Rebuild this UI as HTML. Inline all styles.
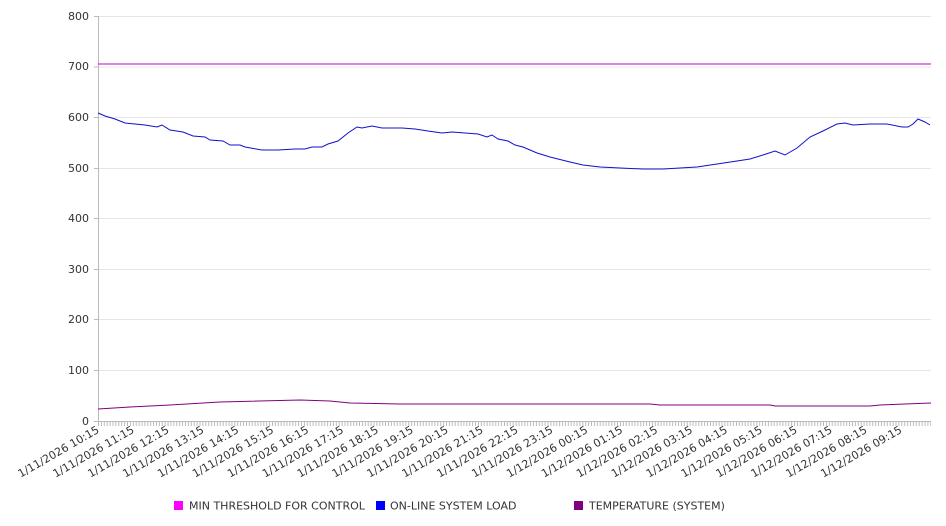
<!DOCTYPE html>
<html><head><meta charset="utf-8"><style>
html,body{margin:0;padding:0;background:#fff;}
svg{display:block;font-family:"DejaVu Sans","Liberation Sans",sans-serif;}
</style></head><body>
<svg width="946" height="526" viewBox="0 0 946 526" xmlns="http://www.w3.org/2000/svg">
<g stroke="#e6e6e6" stroke-width="1">
<line x1="98" y1="16.5" x2="931" y2="16.5"/>
<line x1="98" y1="67" x2="931" y2="67"/>
<line x1="98" y1="117.5" x2="931" y2="117.5"/>
<line x1="98" y1="168.5" x2="931" y2="168.5"/>
<line x1="98" y1="218.5" x2="931" y2="218.5"/>
<line x1="98" y1="269.5" x2="931" y2="269.5"/>
<line x1="98" y1="319.5" x2="931" y2="319.5"/>
<line x1="98" y1="370.5" x2="931" y2="370.5"/>
</g>
<g stroke="#bbb" stroke-width="1">
<line x1="98.5" y1="16" x2="98.5" y2="421"/>
<line x1="98" y1="421.5" x2="931" y2="421.5"/>
<line x1="94" y1="16.5" x2="98" y2="16.5"/><line x1="94" y1="67" x2="98" y2="67"/><line x1="94" y1="117.5" x2="98" y2="117.5"/><line x1="94" y1="168.5" x2="98" y2="168.5"/><line x1="94" y1="218.5" x2="98" y2="218.5"/><line x1="94" y1="269.5" x2="98" y2="269.5"/><line x1="94" y1="319.5" x2="98" y2="319.5"/><line x1="94" y1="370.5" x2="98" y2="370.5"/><line x1="94" y1="421.5" x2="98" y2="421.5"/>
</g>
<line x1="98" y1="424" x2="931" y2="424" stroke="#bbb" stroke-width="4" stroke-dasharray="1 1.9"/>
<g font-size="11" fill="#333" text-anchor="end">
<text x="89" y="20">800</text><text x="89" y="70">700</text><text x="89" y="121">600</text><text x="89" y="172">500</text><text x="89" y="222">400</text><text x="89" y="273">300</text><text x="89" y="323">200</text><text x="89" y="374">100</text><text x="89" y="425">0</text>
</g>
<line x1="98" y1="64" x2="931" y2="64" stroke="#c000c0" stroke-width="1"/>
<polyline fill="none" stroke="#1010cc" stroke-width="1" points="98,113 105,116 115,119 125,123 135,124 145,125 157,127 162,125 170,130 183,132 193,136 205,137 210,140 223,141 230,145 240,145 245,147 262,150 278,150 295,149 305,149 312,147 322,147 328,144 338,141 348,133 357,127 362,128 372,126 382,128 402,128 415,129 428,131 442,133 452,132 465,133 478,134 487,137 492,135 498,139 508,141 515,145 523,147 537,153 550,157 570,162 583,165 600,167 620,168 643,169 663,169 680,168 697,167 717,164 737,161 750,159 763,155 775,151 785,155 797,148 810,137 823,131 837,124 845,123 853,125 870,124 887,124 902,127 908,127 913,124 918,119 925,122 930,125"/>
<polyline fill="none" stroke="#800080" stroke-width="1" points="98,409 130,407 170,405 220,402 300,400 330,401 350,403 400,404 650,404 660,405 770,405 775,406 870,406 880,405 905,404 931,403"/>
<g font-size="11" fill="#333" text-anchor="end">
<text transform="translate(100,432) rotate(-30)">1/11/2026 10:15</text>
<text transform="translate(134.9,432) rotate(-30)">1/11/2026 11:15</text>
<text transform="translate(169.8,432) rotate(-30)">1/11/2026 12:15</text>
<text transform="translate(204.7,432) rotate(-30)">1/11/2026 13:15</text>
<text transform="translate(239.6,432) rotate(-30)">1/11/2026 14:15</text>
<text transform="translate(274.5,432) rotate(-30)">1/11/2026 15:15</text>
<text transform="translate(309.4,432) rotate(-30)">1/11/2026 16:15</text>
<text transform="translate(344.3,432) rotate(-30)">1/11/2026 17:15</text>
<text transform="translate(379.2,432) rotate(-30)">1/11/2026 18:15</text>
<text transform="translate(414.1,432) rotate(-30)">1/11/2026 19:15</text>
<text transform="translate(449,432) rotate(-30)">1/11/2026 20:15</text>
<text transform="translate(483.9,432) rotate(-30)">1/11/2026 21:15</text>
<text transform="translate(518.8,432) rotate(-30)">1/11/2026 22:15</text>
<text transform="translate(553.7,432) rotate(-30)">1/11/2026 23:15</text>
<text transform="translate(588.6,432) rotate(-30)">1/12/2026 00:15</text>
<text transform="translate(623.5,432) rotate(-30)">1/12/2026 01:15</text>
<text transform="translate(658.4,432) rotate(-30)">1/12/2026 02:15</text>
<text transform="translate(693.3,432) rotate(-30)">1/12/2026 03:15</text>
<text transform="translate(728.2,432) rotate(-30)">1/12/2026 04:15</text>
<text transform="translate(763.1,432) rotate(-30)">1/12/2026 05:15</text>
<text transform="translate(798,432) rotate(-30)">1/12/2026 06:15</text>
<text transform="translate(832.9,432) rotate(-30)">1/12/2026 07:15</text>
<text transform="translate(867.8,432) rotate(-30)">1/12/2026 08:15</text>
<text transform="translate(902.7,432) rotate(-30)">1/12/2026 09:15</text>
</g>
<rect x="174" y="501" width="9" height="9" fill="#ff00ff"/>
<rect x="376" y="501" width="9" height="9" fill="#0000ff"/>
<rect x="574" y="501" width="9" height="9" fill="#800080"/>
<g font-size="11" fill="#333">
<text x="189" y="509.5">MIN THRESHOLD FOR CONTROL</text>
<text x="390" y="509.5">ON-LINE SYSTEM LOAD</text>
<text x="589" y="509.5">TEMPERATURE (SYSTEM)</text>
</g>
</svg>
</body></html>
